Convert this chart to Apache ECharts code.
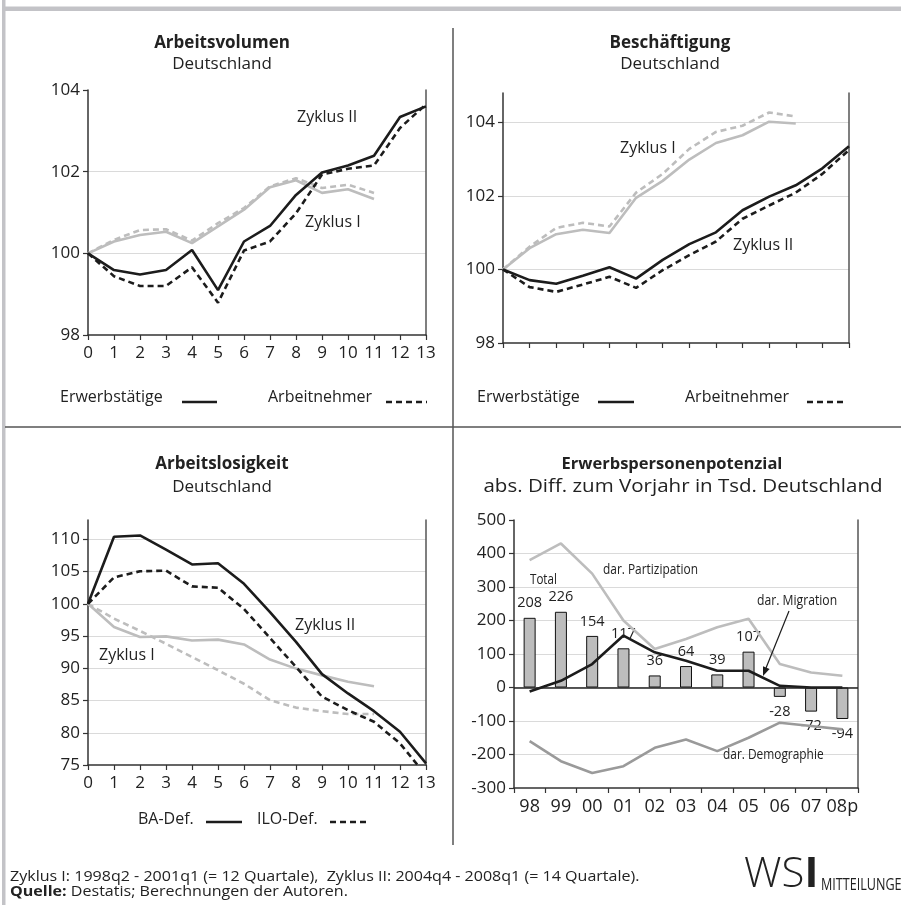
<!DOCTYPE html>
<html><head><meta charset="utf-8">
<script src="https://cdn.jsdelivr.net/npm/echarts@6/dist/echarts.min.js"></script>
<style>html,body{margin:0;padding:0;background:#fff}#c{width:901px;height:905px}</style>
</head><body><div id="c"></div><script>
const FONT = '"Open Sans", "Noto Sans", sans-serif';
const quarters = ['0','1','2','3','4','5','6','7','8','9','10','11','12','13'];

// Panel 1: Arbeitsvolumen
const avErwZ2 = [100, 99.59, 99.48, 99.59, 100.08, 99.1, 100.29, 100.67, 101.43, 101.98, 102.15, 102.39, 103.34, 103.6];
const avArbZ2 = [100, 99.44, 99.2, 99.2, 99.66, 98.79, 100.07, 100.29, 100.98, 101.93, 102.07, 102.15, 103.07, 103.65];
const avErwZ1 = [100, 100.29, 100.45, 100.53, 100.25, 100.66, 101.07, 101.62, 101.79, 101.48, 101.57, 101.33];
const avArbZ1 = [100, 100.33, 100.57, 100.59, 100.31, 100.74, 101.11, 101.64, 101.84, 101.6, 101.68, 101.48];

// Panel 2: Beschäftigung
const beErwZ2 = [100, 99.71, 99.61, 99.83, 100.06, 99.75, 100.26, 100.69, 101.01, 101.61, 101.98, 102.29, 102.75, 103.35];
const beArbZ2 = [100, 99.52, 99.39, 99.59, 99.8, 99.5, 99.98, 100.39, 100.76, 101.38, 101.74, 102.09, 102.6, 103.25];
const beErwZ1 = [100, 100.58, 100.96, 101.08, 100.99, 101.95, 102.41, 102.99, 103.44, 103.65, 104.02, 103.97];
const beArbZ1 = [100, 100.62, 101.13, 101.27, 101.17, 102.09, 102.6, 103.28, 103.74, 103.91, 104.27, 104.16];

// Panel 3: Arbeitslosigkeit
const alBaZ2  = [100, 110.4, 110.6, 108.4, 106.1, 106.3, 103.1, 98.7, 94.1, 89.1, 86.1, 83.35, 80.15, 75.25];
const alIloZ2 = [100, 104.1, 105.05, 105.15, 102.7, 102.5, 99.2, 94.7, 90.2, 85.6, 83.5, 81.7, 78.35, 73.4];
const alBaZ1  = [100, 96.4, 94.85, 94.95, 94.3, 94.45, 93.7, 91.35, 89.95, 88.9, 87.9, 87.2];
const alIloZ1 = [100, 97.7, 95.8, 93.8, 91.75, 89.7, 87.6, 85.05, 83.9, 83.35, 82.9, 82.9];

// Panel 4: Erwerbspersonenpotenzial
const years = ['98','99','00','01','02','03','04','05','06','07','08p'];
const epTotal = [208, 226, 154, 117, 36, 64, 39, 107, -28, -72, -94];
const epPartizipation = [380, 430, 340, 200, 115, 145, 180, 205, 70, 45, 35];
const epMigration = [-12, 20, 70, 155, 105, 80, 50, 50, 5, 0, 0];
const epDemographie = [-160, -220, -255, -235, -180, -155, -190, -150, -105, -115, -125];

const BLACK = '#1c1c1c', LGRAY = '#bdbdbd', MGRAY = '#9a9a9a', GRID = '#dadada', AX = '#333';

const chart = echarts.init(document.getElementById('c'), null, {renderer: 'canvas'});

function lineS(i, data, color, dashed, z) {
  return {type: 'line', xAxisIndex: i, yAxisIndex: i, data: data, symbol: 'none', silent: true,
    lineStyle: {color: color, width: 2.6, type: dashed ? [6, 4] : 'solid'}, z: z, animation: false};
}
function xCat(i, data, showLabels, boundaryGap) {
  return {type: 'category', gridIndex: i, data: data, boundaryGap: boundaryGap,
    axisLine: {onZero: false, lineStyle: {color: AX, width: 1.5}},
    axisTick: {show: true, length: 5, lineStyle: {color: AX, width: 1.2}, alignWithLabel: false},
    axisLabel: {show: showLabels, fontFamily: FONT, fontSize: 17, color: '#222', margin: 10, interval: 0},
    splitLine: {show: false}};
}
function yVal(i, min, max, interval) {
  return {type: 'value', gridIndex: i, min: min, max: max, interval: interval,
    axisLine: {show: true, onZero: false, lineStyle: {color: AX, width: 1.5}},
    axisTick: {show: true, length: 5, lineStyle: {color: AX, width: 1.2}},
    axisLabel: {fontFamily: FONT, fontSize: 17, color: '#222', margin: 8, showMaxLabel: (max % interval === 0)},
    splitLine: {show: true, showMinLine: false, showMaxLine: false, lineStyle: {color: GRID, width: 1}}};
}
function yRight(i) {
  return {type: 'value', gridIndex: i, position: 'right',
    axisLine: {show: true, onZero: false, lineStyle: {color: '#555', width: 1.5}},
    axisTick: {show: false}, axisLabel: {show: false}, splitLine: {show: false}};
}

function txt(x, y, text, size, opts) {
  opts = opts || {};
  return {type: 'text', silent: true, z: 100, x: x, y: y, scaleX: opts.sx || 1,
    style: Object.assign({x: 0, y: 0, text: text,
    fontFamily: FONT, fontSize: size, fill: '#222', textAlign: opts.align || 'left', textVerticalAlign: opts.va || 'middle'}, opts.style || {})};
}
function ln(x1, y1, x2, y2, color, w, dash) {
  return {type: 'line', silent: true, z: 100, shape: {x1: x1, y1: y1, x2: x2, y2: y2},
    style: {stroke: color, lineWidth: w, lineDash: dash || null}};
}

const graphics = [
  // frame
  {type: 'rect', silent: true, shape: {x: 2, y: 0, width: 3.5, height: 905}, style: {fill: '#c3c3c7'}},
  {type: 'rect', silent: true, shape: {x: 2, y: 6.5, width: 899, height: 4.5}, style: {fill: '#c3c3c7'}},
  ln(453, 28, 453, 845, '#555', 1.5),
  ln(5, 427, 901, 427, '#555', 1.5),
  // titles
  txt(222, 43, 'Arbeitsvolumen', 17, {align: 'center', style: {fontWeight: 'bold'}}),
  txt(222, 64, 'Deutschland', 17, {align: 'center'}),
  txt(670, 43, 'Beschäftigung', 17, {align: 'center', style: {fontWeight: 'bold'}}),
  txt(670, 64, 'Deutschland', 17, {align: 'center'}),
  txt(222, 464, 'Arbeitslosigkeit', 17, {align: 'center', style: {fontWeight: 'bold'}}),
  txt(222, 487, 'Deutschland', 17, {align: 'center'}),
  txt(672, 464, 'Erwerbspersonenpotenzial', 16.5, {align: 'center', style: {fontWeight: 'bold'}}),
  txt(683, 487, 'abs. Diff. zum Vorjahr in Tsd. Deutschland', 18, {align: 'center', sx: 1.14}),
  // annotations
  txt(297, 117, 'Zyklus II', 16),
  txt(305, 222, 'Zyklus I', 16),
  txt(620, 148, 'Zyklus I', 16),
  txt(733, 245, 'Zyklus II', 16),
  txt(295, 625, 'Zyklus II', 16),
  txt(99, 655, 'Zyklus I', 16),
  txt(530, 580, 'Total', 14.5, {sx: 0.8}),
  txt(603, 570, 'dar. Partizipation', 14.5, {sx: 0.82}),
  txt(757, 601, 'dar. Migration', 14.5, {sx: 0.84}),
  txt(723, 755, 'dar. Demographie', 14.5, {sx: 0.82}),
  ln(789, 611, 766, 668, BLACK, 1.2),
  {type: 'polygon', silent: true, z: 100, shape: {points: [[763, 676], [769.6, 668.9], [763, 666.3]]}, style: {fill: BLACK}},
  // legends
  txt(60, 397, 'Erwerbstätige', 16),
  ln(182, 402, 217, 402, BLACK, 2.5),
  txt(268, 397, 'Arbeitnehmer', 16),
  ln(386, 402, 427, 402, BLACK, 2.5, [6, 4]),
  txt(477, 397, 'Erwerbstätige', 16),
  ln(598, 402, 634, 402, BLACK, 2.5),
  txt(685, 397, 'Arbeitnehmer', 16),
  ln(807, 402, 845, 402, BLACK, 2.5, [6, 4]),
  txt(138, 819, 'BA-Def.', 16),
  ln(206, 822, 242, 822, BLACK, 2.5),
  txt(257, 819, 'ILO-Def.', 16),
  ln(330, 822, 368, 822, BLACK, 2.5, [6, 4]),
  // footer
  txt(10, 877, 'Zyklus I: 1998q2 - 2001q1 (= 12 Quartale),  Zyklus II: 2004q4 - 2008q1 (= 14 Quartale).', 15, {sx: 1.07}),
  txt(10, 892, '{b|Quelle:} Destatis; Berechnungen der Autoren.', 15, {sx: 1.07,
    style: {rich: {b: {fontFamily: FONT, fontSize: 15, fontWeight: 'bold', fill: '#222'}}}}),
  txt(744, 896, '{w|WS}{i|I}', 42, {va: 'bottom', style: {rich: {
    w: {fontFamily: FONT, fontSize: 42, fontWeight: 300, fill: '#222'},
    i: {fontFamily: FONT, fontSize: 42, fontWeight: 'bold', fill: '#222'}}}}),
  txt(821, 894, 'MITTEILUNGEN', 17, {va: 'bottom', sx: 0.74})
];

const barData = epTotal.map(v => ({value: v, label: {position: v >= 0 ? 'top' : 'bottom'}}));

const option = {
  animation: false,
  backgroundColor: '#fff',
  grid: [
    {left: 88, top: 90, width: 338, height: 245},
    {left: 503, top: 93, width: 346, height: 250},
    {left: 88, top: 520, width: 338, height: 245},
    {left: 514, top: 520, width: 344, height: 268}
  ],
  xAxis: [
    xCat(0, quarters, true, false),
    xCat(1, quarters, false, false),
    xCat(2, quarters, true, false),
    Object.assign(xCat(3, years, true, true), {axisLabel: {fontFamily: FONT, fontSize: 18, color: '#222', margin: 10, interval: 0}})
  ],
  yAxis: [
    yVal(0, 98, 104, 2),
    yVal(1, 98, 104.8, 2),
    yVal(2, 75, 113, 5),
    yVal(3, -300, 500, 100),
    yRight(0), yRight(1), yRight(2), yRight(3)
  ],
  series: [
    lineS(0, avErwZ1, LGRAY, false, 2),
    lineS(0, avArbZ1, LGRAY, true, 2),
    lineS(0, avArbZ2, BLACK, true, 3),
    lineS(0, avErwZ2, BLACK, false, 4),
    lineS(1, beErwZ1, LGRAY, false, 2),
    lineS(1, beArbZ1, LGRAY, true, 2),
    lineS(1, beArbZ2, BLACK, true, 3),
    lineS(1, beErwZ2, BLACK, false, 4),
    lineS(2, alBaZ1, LGRAY, false, 2),
    lineS(2, alIloZ1, LGRAY, true, 2),
    lineS(2, alIloZ2, BLACK, true, 3),
    lineS(2, alBaZ2, BLACK, false, 4),
    {type: 'bar', xAxisIndex: 3, yAxisIndex: 3, data: barData, barWidth: 12, silent: true, z: 2,
      itemStyle: {color: '#bdbdbd', borderColor: '#111', borderWidth: 1},
      label: {show: true, distance: 7, fontFamily: FONT, fontSize: 14.5, color: '#222'},
      markLine: {silent: true, symbol: 'none', label: {show: false},
        lineStyle: {color: '#222', width: 1.5, type: 'solid'}, data: [{yAxis: 0}]}},
    lineS(3, epPartizipation, LGRAY, false, 3),
    lineS(3, epDemographie, MGRAY, false, 3),
    lineS(3, epMigration, BLACK, false, 4)
  ],
  graphic: graphics
};
chart.setOption(option);
</script></body></html>
